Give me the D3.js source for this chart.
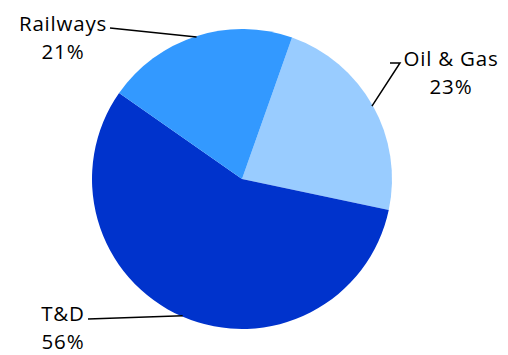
<!DOCTYPE html>
<html lang="en">
<head>
  <script src="https://d3js.org/d3.v7.min.js"></script>
  <style>
    body { margin: 0; background: #fff; }
    text { font-family: "Open Sans", "Liberation Sans", sans-serif; font-size: 20.5px; letter-spacing: 0.8px; fill: #000; }
  </style>
</head>
<body>
<script>
  // slice data, clockwise from the first slice edge
  const categories = ["Oil & Gas", "T&D", "Railways"];
  const shares = [22.9, 56.4, 20.7];
  const colors = ["#99CCFF", "#0033CC", "#3399FF"];

  // label layout: where each label's text block sits and where the leader line bends
  const labelPos = [
    { x: 451, y: 66, anchor: "middle", lineEnd: [390, 63], bend: [400, 63] },
    { x: 63, y: 321, anchor: "middle", lineEnd: [88, 319], bend: null },
    { x: 63, y: 31, anchor: "middle", lineEnd: [110, 28], bend: null }
  ];

  const width = 508, height = 355;
  const cx = 242, cy = 179, radius = 150;
  const startDeg = 19.5;

  const svg = d3.select("body").append("svg")
    .attr("width", width)
    .attr("height", height);

  const g = svg.append("g").attr("transform", `translate(${cx},${cy})`);

  const pie = d3.pie().sort(null)
    .startAngle(startDeg * Math.PI / 180)
    .endAngle(startDeg * Math.PI / 180 + 2 * Math.PI);
  const arcs = pie(shares);

  const arc = d3.arc().innerRadius(0).outerRadius(radius);

  g.selectAll("path.slice")
    .data(arcs)
    .join("path")
    .attr("class", "slice")
    .attr("d", arc)
    .attr("fill", (d, i) => colors[i]);

  // leader lines, from the middle of each slice's rim out to its label
  const rim = d3.arc().innerRadius(radius - 1).outerRadius(radius - 1);
  const total = d3.sum(shares);

  arcs.forEach((d, i) => {
    const p = rim.centroid(d);
    const L = labelPos[i];
    const pts = [[p[0] + cx, p[1] + cy]];
    if (L.bend) pts.push(L.bend);
    pts.push(L.lineEnd);
    svg.append("path")
      .attr("d", d3.line()(pts))
      .attr("fill", "none")
      .attr("stroke", "#000")
      .attr("stroke-width", 1.5);

    const t = svg.append("text")
      .attr("x", L.x)
      .attr("y", L.y)
      .attr("text-anchor", L.anchor);
    t.append("tspan").attr("x", L.x).text(categories[i]);
    t.append("tspan").attr("x", L.x).attr("dy", 28)
      .text(Math.round(shares[i] / total * 100) + "%");
  });
</script>
</body>
</html>
